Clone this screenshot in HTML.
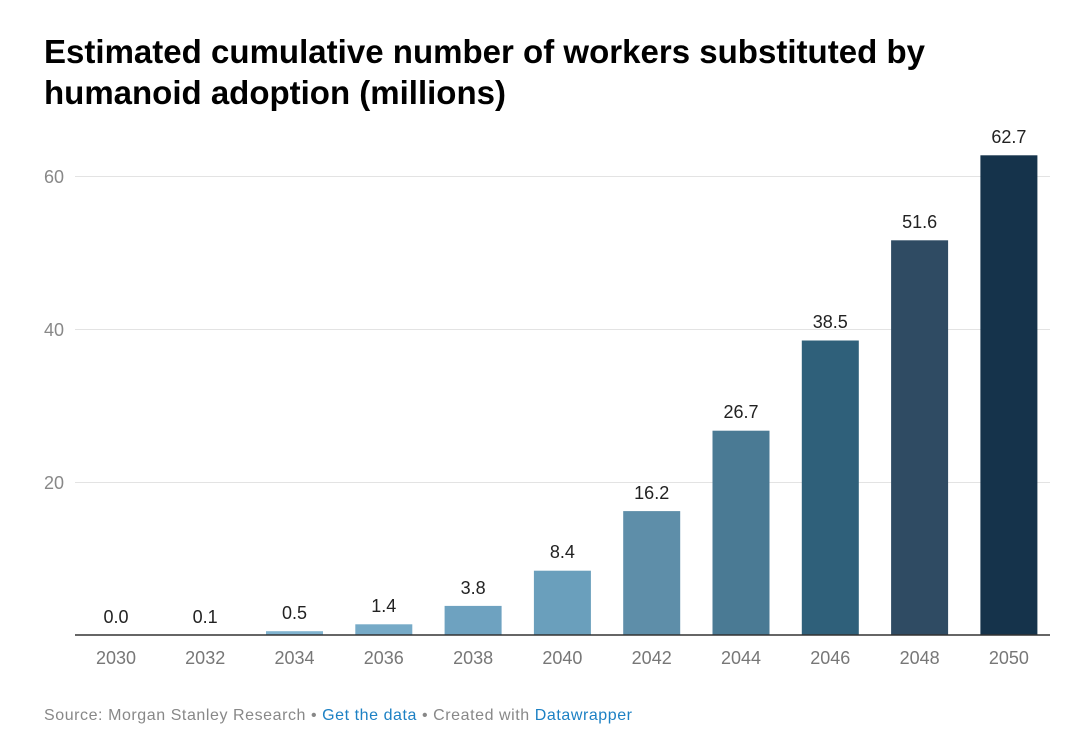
<!DOCTYPE html>
<html><head><meta charset="utf-8"><style>
body{margin:0;background:#fff;font-family:"Liberation Sans",sans-serif;}
</style></head><body>
<svg width="1080" height="740" xmlns="http://www.w3.org/2000/svg" font-family="Liberation Sans, sans-serif">
<text x="44" y="63" font-size="33" font-weight="bold" fill="#000" textLength="881">Estimated cumulative number of workers substituted by</text>
<text x="44" y="104" font-size="33" font-weight="bold" fill="#000">humanoid adoption (millions)</text>
<g stroke="#e3e3e3" stroke-width="1">
<line x1="75" x2="1050" y1="176.5" y2="176.5"/>
<line x1="75" x2="1050" y1="329.5" y2="329.5"/>
<line x1="75" x2="1050" y1="482.5" y2="482.5"/>
</g>
<g font-size="18" fill="#888">
<text x="44" y="183">60</text><text x="44" y="336">40</text><text x="44" y="489">20</text>
</g>
<g>
<rect x="266.0" y="631.2" width="57" height="3.8" fill="#80b3cf"/>
<rect x="355.3" y="624.3" width="57" height="10.7" fill="#76aac7"/>
<rect x="444.6" y="605.9" width="57" height="29.1" fill="#6ea2c0"/>
<rect x="533.9" y="570.7" width="57" height="64.3" fill="#6a9fbc"/>
<rect x="623.2" y="511.1" width="57" height="123.9" fill="#5e8ea9"/>
<rect x="712.5" y="430.7" width="57" height="204.3" fill="#4a7a94"/>
<rect x="801.8" y="340.5" width="57" height="294.5" fill="#2f607a"/>
<rect x="891.1" y="240.3" width="57" height="394.7" fill="#2f4b63"/>
<rect x="980.4" y="155.3" width="57" height="479.7" fill="#15334b"/>
</g>
<line x1="75" x2="1050" y1="635" y2="635" stroke="#333" stroke-width="1.5"/>
<g font-size="18" fill="#222" text-anchor="middle">
<text x="116" y="623">0.0</text>
<text x="205.2" y="623">0.1</text>
<text x="294.5" y="619">0.5</text>
<text x="383.8" y="612">1.4</text>
<text x="473.1" y="594">3.8</text>
<text x="562.4" y="558">8.4</text>
<text x="651.7" y="499">16.2</text>
<text x="741" y="418">26.7</text>
<text x="830.3" y="328">38.5</text>
<text x="919.6" y="228">51.6</text>
<text x="1008.9" y="143">62.7</text>
</g>
<g font-size="18" fill="#777" text-anchor="middle">
<text x="116" y="664">2030</text><text x="205.2" y="664">2032</text><text x="294.5" y="664">2034</text>
<text x="383.8" y="664">2036</text><text x="473.1" y="664">2038</text><text x="562.4" y="664">2040</text>
<text x="651.7" y="664">2042</text><text x="741" y="664">2044</text><text x="830.3" y="664">2046</text>
<text x="919.6" y="664">2048</text><text x="1008.9" y="664">2050</text>
</g>
<text x="44" y="720" font-size="16" fill="#888" textLength="588">Source: Morgan Stanley Research • <tspan fill="#1d81c4">Get the data</tspan> • Created with <tspan fill="#1d81c4">Datawrapper</tspan></text>
</svg>
</body></html>
